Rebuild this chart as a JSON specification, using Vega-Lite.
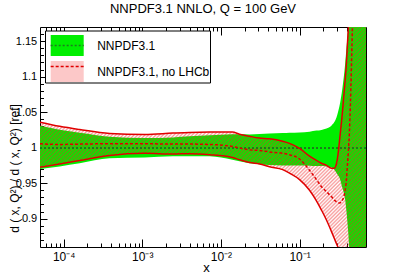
{
"$schema": "https://vega.github.io/schema/vega-lite/v6.json",
"width": 326, "height": 220,
"autosize": "none",
"padding": {"left": 40, "top": 27, "right": 41, "bottom": 29},
"background": "white",
"title": {"text": "NNPDF3.1 NNLO, Q = 100 GeV", "font": "Liberation Sans", "fontSize": 13, "fontWeight": "normal", "color": "black", "anchor": "middle", "frame": "group", "offset": 1, "baseline": "alphabetic"},
"data": {"values": [
{"x":5e-5,"gl":0.970,"gh":1.031,"rl":0.9725,"rh":1.0358,"rc":1.0055},
{"x":8.9e-5,"gl":0.9736,"gh":1.0253,"rl":0.977,"rh":1.030,"rc":1.0045},
{"x":1.6e-4,"gl":0.978,"gh":1.021,"rl":0.982,"rh":1.0255,"rc":1.005},
{"x":3.84e-4,"gl":0.985,"gh":1.0155,"rl":0.989,"rh":1.020,"rc":1.0055},
{"x":1.07e-3,"gl":0.986,"gh":1.0135,"rl":0.992,"rh":1.0185,"rc":1.0055},
{"x":2.44e-3,"gl":0.9877,"gh":1.0144,"rl":0.991,"rh":1.0205,"rc":1.005},
{"x":4.0e-3,"gl":0.988,"gh":1.016,"rl":0.9915,"rh":1.0215,"rc":1.005},
{"x":7.2e-3,"gl":0.9877,"gh":1.0173,"rl":0.990,"rh":1.022,"rc":1.0045},
{"x":0.014,"gl":0.983,"gh":1.019,"rl":0.986,"rh":1.022,"rc":1.0017},
{"x":0.0172,"gl":0.981,"gh":1.0187,"rl":0.983,"rh":1.019,"rc":0.9995},
{"x":0.0231,"gl":0.978,"gh":1.0185,"rl":0.979,"rh":1.016,"rc":0.997},
{"x":0.031,"gl":0.9765,"gh":1.0193,"rl":0.977,"rh":1.0135,"rc":0.996},
{"x":0.0415,"gl":0.9755,"gh":1.020,"rl":0.973,"rh":1.0125,"rc":0.994},
{"x":0.061,"gl":0.975,"gh":1.0206,"rl":0.969,"rh":1.009,"rc":0.992},
{"x":0.0745,"gl":0.975,"gh":1.021,"rl":0.964,"rh":1.006,"rc":0.990},
{"x":0.1,"gl":0.975,"gh":1.0215,"rl":0.955,"rh":0.999,"rc":0.984},
{"x":0.134,"gl":0.9745,"gh":1.0225,"rl":0.94,"rh":0.988,"rc":0.968},
{"x":0.164,"gl":0.974,"gh":1.024,"rl":0.925,"rh":0.982,"rc":0.955},
{"x":0.19,"gl":0.974,"gh":1.025,"rl":0.912,"rh":0.978,"rc":0.945},
{"x":0.22,"gl":0.9735,"gh":1.027,"rl":0.898,"rh":0.975,"rc":0.938},
{"x":0.254,"gl":0.972,"gh":1.031,"rl":0.882,"rh":0.971,"rc":0.931},
{"x":0.277,"gl":0.969,"gh":1.036,"rl":0.872,"rh":0.971,"rc":0.926},
{"x":0.294,"gl":0.9645,"gh":1.042,"rl":0.865,"rh":0.977,"rc":0.924},
{"x":0.308,"gl":0.961,"gh":1.05,"rl":0.86,"rh":0.99,"rc":0.923},
{"x":0.321,"gl":0.958,"gh":1.058,"rl":0.86,"rh":1.008,"rc":0.922},
{"x":0.351,"gl":0.943,"gh":1.084,"rl":0.86,"rh":1.05,"rc":0.926},
{"x":0.38,"gl":0.927,"gh":1.118,"rl":0.86,"rh":1.095,"rc":0.94},
{"x":0.395,"gl":0.91,"gh":1.14,"rl":0.86,"rh":1.12,"rc":0.955},
{"x":0.406,"gl":0.895,"gh":1.155,"rl":0.86,"rh":1.145,"rc":0.975},
{"x":0.418,"gl":0.878,"gh":1.17,"rl":0.86,"rh":1.17,"rc":0.995},
{"x":0.43,"gl":0.86,"gh":1.17,"rl":0.86,"rh":1.17,"rc":1.02},
{"x":0.443,"gl":0.86,"gh":1.17,"rl":0.86,"rh":1.17,"rc":1.06},
{"x":0.47,"gl":0.86,"gh":1.17,"rl":0.86,"rh":1.17,"rc":1.17},
{"x":0.7,"gl":0.86,"gh":1.17,"rl":0.86,"rh":1.17,"rc":1.17}
]},
"config": {
"view": {"stroke": "black", "strokeWidth": 1},
"axis": {"grid": false, "domain": false, "tickColor": "black", "tickWidth": 1, "labelFont": "Liberation Sans", "titleFont": "Liberation Sans", "labelColor": "black", "titleColor": "black", "titleFontWeight": "normal", "labelFlush": false, "labelOverlap": false, "zindex": 1}
},
"resolve": {"axis": {"x": "independent", "y": "independent"}},
"layer": [
{
"mark": {"type": "area", "interpolate": "monotone", "clip": true},
"encoding": {
"x": {"field": "x", "type": "quantitative", "scale": {"type": "log", "domain": [5e-5, 0.7], "nice": false},
 "axis": {"orient": "bottom", "values": [0.0001, 0.001, 0.01, 0.1], "labelExpr": "datum.value < 0.0005 ? '10⁻⁴' : datum.value < 0.005 ? '10⁻³' : datum.value < 0.05 ? '10⁻²' : '10⁻¹'", "tickSize": -8, "labelPadding": 12.5, "labelFontSize": 12, "title": "x", "titleFontSize": 13, "titleX": 166, "titleY": 24.5, "titleAlign": "center", "titleBaseline": "alphabetic"}},
"y": {"field": "gl", "type": "quantitative", "scale": {"domain": [0.86, 1.17], "nice": false, "zero": false},
 "axis": {"orient": "left", "values": [0.9, 0.95, 1, 1.05, 1.1, 1.15], "format": "~g", "tickSize": -7, "labelPadding": 10.3, "labelFontSize": 11, "title": "d ( x, Q²) / d ( x, Q²) [ref]", "titleFontSize": 12, "titleX": -22, "titleY": 141, "titleAngle": -90, "titleAlign": "center", "titleBaseline": "alphabetic"}},
"y2": {"field": "gh"},
"fill": {"datum": "NNPDF3.1",
 "scale": {"domain": ["NNPDF3.1", "NNPDF3.1, no LHCb"], "range": ["#00ee00", "#fcc8c8"]},
 "legend": {"orient": "none", "legendX": 5, "legendY": 3.5, "title": null, "padding": 0, "strokeColor": "black", "fillColor": "white", "symbolType": "M-1.1,-0.7L1.1,-0.7L1.1,0.7L-1.1,0.7Z", "symbolSize": 900, "symbolStrokeWidth": 0, "symbolStrokeColor": "transparent", "symbolOffset": 7.2, "labelOffset": 15, "labelFont": "Liberation Sans", "labelFontSize": 12, "labelColor": "black", "rowPadding": 0, "labelExpr": "datum.label + '\u00a0\u00a0\u00a0\u00a0\u00a0\u00a0\u00a0\u00a0\u00a0'", "zindex": 1}}
}
},
{
"mark": {"type": "area", "interpolate": "monotone", "clip": true,
 "fill": {"gradient": "linear", "x1": 0, "y1": 0, "x2": 1.1507, "y2": 0.7767, "stops": [
{"offset":0,"color":"#e220"},{"offset":0.0033,"color":"#e227"},{"offset":0.0067,"color":"#e220"},{"offset":0.01,"color":"#e227"},{"offset":0.0133,"color":"#e220"},{"offset":0.0167,"color":"#e227"},
{"offset":0.02,"color":"#e220"},{"offset":0.0233,"color":"#e227"},{"offset":0.0267,"color":"#e220"},{"offset":0.03,"color":"#e227"},{"offset":0.0333,"color":"#e220"},{"offset":0.0367,"color":"#e227"},
{"offset":0.04,"color":"#e220"},{"offset":0.0433,"color":"#e227"},{"offset":0.0467,"color":"#e220"},{"offset":0.05,"color":"#e227"},{"offset":0.0533,"color":"#e220"},{"offset":0.0567,"color":"#e227"},
{"offset":0.06,"color":"#e220"},{"offset":0.0633,"color":"#e227"},{"offset":0.0667,"color":"#e220"},{"offset":0.07,"color":"#e227"},{"offset":0.0733,"color":"#e220"},{"offset":0.0767,"color":"#e227"},
{"offset":0.08,"color":"#e220"},{"offset":0.0833,"color":"#e227"},{"offset":0.0867,"color":"#e220"},{"offset":0.09,"color":"#e227"},{"offset":0.0933,"color":"#e220"},{"offset":0.0967,"color":"#e227"},
{"offset":0.1,"color":"#e220"},{"offset":0.1033,"color":"#e227"},{"offset":0.1067,"color":"#e220"},{"offset":0.11,"color":"#e227"},{"offset":0.1133,"color":"#e220"},{"offset":0.1167,"color":"#e227"},
{"offset":0.12,"color":"#e220"},{"offset":0.1233,"color":"#e227"},{"offset":0.1267,"color":"#e220"},{"offset":0.13,"color":"#e227"},{"offset":0.1333,"color":"#e220"},{"offset":0.1367,"color":"#e227"},
{"offset":0.14,"color":"#e220"},{"offset":0.1433,"color":"#e227"},{"offset":0.1467,"color":"#e220"},{"offset":0.15,"color":"#e227"},{"offset":0.1533,"color":"#e220"},{"offset":0.1567,"color":"#e227"},
{"offset":0.16,"color":"#e220"},{"offset":0.1633,"color":"#e227"},{"offset":0.1667,"color":"#e220"},{"offset":0.17,"color":"#e227"},{"offset":0.1733,"color":"#e220"},{"offset":0.1767,"color":"#e227"},
{"offset":0.18,"color":"#e220"},{"offset":0.1833,"color":"#e227"},{"offset":0.1867,"color":"#e220"},{"offset":0.19,"color":"#e227"},{"offset":0.1933,"color":"#e220"},{"offset":0.1967,"color":"#e227"},
{"offset":0.2,"color":"#e220"},{"offset":0.2033,"color":"#e227"},{"offset":0.2067,"color":"#e220"},{"offset":0.21,"color":"#e227"},{"offset":0.2133,"color":"#e220"},{"offset":0.2167,"color":"#e227"},
{"offset":0.22,"color":"#e220"},{"offset":0.2233,"color":"#e227"},{"offset":0.2267,"color":"#e220"},{"offset":0.23,"color":"#e227"},{"offset":0.2333,"color":"#e220"},{"offset":0.2367,"color":"#e227"},
{"offset":0.24,"color":"#e220"},{"offset":0.2433,"color":"#e227"},{"offset":0.2467,"color":"#e220"},{"offset":0.25,"color":"#e227"},{"offset":0.2533,"color":"#e220"},{"offset":0.2567,"color":"#e227"},
{"offset":0.26,"color":"#e220"},{"offset":0.2633,"color":"#e227"},{"offset":0.2667,"color":"#e220"},{"offset":0.27,"color":"#e227"},{"offset":0.2733,"color":"#e220"},{"offset":0.2767,"color":"#e227"},
{"offset":0.28,"color":"#e220"},{"offset":0.2833,"color":"#e227"},{"offset":0.2867,"color":"#e220"},{"offset":0.29,"color":"#e227"},{"offset":0.2933,"color":"#e220"},{"offset":0.2967,"color":"#e227"},
{"offset":0.3,"color":"#e220"},{"offset":0.3033,"color":"#e227"},{"offset":0.3067,"color":"#e220"},{"offset":0.31,"color":"#e227"},{"offset":0.3133,"color":"#e220"},{"offset":0.3167,"color":"#e227"},
{"offset":0.32,"color":"#e220"},{"offset":0.3233,"color":"#e227"},{"offset":0.3267,"color":"#e220"},{"offset":0.33,"color":"#e227"},{"offset":0.3333,"color":"#e220"},{"offset":0.3367,"color":"#e227"},
{"offset":0.34,"color":"#e220"},{"offset":0.3433,"color":"#e227"},{"offset":0.3467,"color":"#e220"},{"offset":0.35,"color":"#e227"},{"offset":0.3533,"color":"#e220"},{"offset":0.3567,"color":"#e227"},
{"offset":0.36,"color":"#e220"},{"offset":0.3633,"color":"#e227"},{"offset":0.3667,"color":"#e220"},{"offset":0.37,"color":"#e227"},{"offset":0.3733,"color":"#e220"},{"offset":0.3767,"color":"#e227"},
{"offset":0.38,"color":"#e220"},{"offset":0.3833,"color":"#e227"},{"offset":0.3867,"color":"#e220"},{"offset":0.39,"color":"#e227"},{"offset":0.3933,"color":"#e220"},{"offset":0.3967,"color":"#e227"},
{"offset":0.4,"color":"#e220"},{"offset":0.4033,"color":"#e227"},{"offset":0.4067,"color":"#e220"},{"offset":0.41,"color":"#e227"},{"offset":0.4133,"color":"#e220"},{"offset":0.4167,"color":"#e227"},
{"offset":0.42,"color":"#e220"},{"offset":0.4233,"color":"#e227"},{"offset":0.4267,"color":"#e220"},{"offset":0.43,"color":"#e227"},{"offset":0.4333,"color":"#e220"},{"offset":0.4367,"color":"#e227"},
{"offset":0.44,"color":"#e220"},{"offset":0.4433,"color":"#e227"},{"offset":0.4467,"color":"#e220"},{"offset":0.45,"color":"#e227"},{"offset":0.4533,"color":"#e220"},{"offset":0.4567,"color":"#e227"},
{"offset":0.46,"color":"#e220"},{"offset":0.4633,"color":"#e227"},{"offset":0.4667,"color":"#e220"},{"offset":0.47,"color":"#e227"},{"offset":0.4733,"color":"#e220"},{"offset":0.4767,"color":"#e227"},
{"offset":0.48,"color":"#e220"},{"offset":0.4833,"color":"#e227"},{"offset":0.4867,"color":"#e220"},{"offset":0.49,"color":"#e227"},{"offset":0.4933,"color":"#e220"},{"offset":0.4967,"color":"#e227"},
{"offset":0.5,"color":"#e220"},{"offset":0.5033,"color":"#e227"},{"offset":0.5067,"color":"#e220"},{"offset":0.51,"color":"#e227"},{"offset":0.5133,"color":"#e220"},{"offset":0.5167,"color":"#e227"},
{"offset":0.52,"color":"#e220"},{"offset":0.5233,"color":"#e227"},{"offset":0.5267,"color":"#e220"},{"offset":0.53,"color":"#e227"},{"offset":0.5333,"color":"#e220"},{"offset":0.5367,"color":"#e227"},
{"offset":0.54,"color":"#e220"},{"offset":0.5433,"color":"#e227"},{"offset":0.5467,"color":"#e220"},{"offset":0.55,"color":"#e227"},{"offset":0.5533,"color":"#e220"},{"offset":0.5567,"color":"#e227"},
{"offset":0.56,"color":"#e220"},{"offset":0.5633,"color":"#e227"},{"offset":0.5667,"color":"#e220"},{"offset":0.57,"color":"#e227"},{"offset":0.5733,"color":"#e220"},{"offset":0.5767,"color":"#e227"},
{"offset":0.58,"color":"#e220"},{"offset":0.5833,"color":"#e227"},{"offset":0.5867,"color":"#e220"},{"offset":0.59,"color":"#e227"},{"offset":0.5933,"color":"#e220"},{"offset":0.5967,"color":"#e227"},
{"offset":0.6,"color":"#e220"},{"offset":0.6033,"color":"#e227"},{"offset":0.6067,"color":"#e220"},{"offset":0.61,"color":"#e227"},{"offset":0.6133,"color":"#e220"},{"offset":0.6167,"color":"#e227"},
{"offset":0.62,"color":"#e220"},{"offset":0.6233,"color":"#e227"},{"offset":0.6267,"color":"#e220"},{"offset":0.63,"color":"#e227"},{"offset":0.6333,"color":"#e220"},{"offset":0.6367,"color":"#e227"},
{"offset":0.64,"color":"#e220"},{"offset":0.6433,"color":"#e227"},{"offset":0.6467,"color":"#e220"},{"offset":0.65,"color":"#e227"},{"offset":0.6533,"color":"#e220"},{"offset":0.6567,"color":"#e227"},
{"offset":0.66,"color":"#e220"},{"offset":0.6633,"color":"#e227"},{"offset":0.6667,"color":"#e220"},{"offset":0.67,"color":"#e227"},{"offset":0.6733,"color":"#e220"},{"offset":0.6767,"color":"#e227"},
{"offset":0.68,"color":"#e220"},{"offset":0.6833,"color":"#e227"},{"offset":0.6867,"color":"#e220"},{"offset":0.69,"color":"#e227"},{"offset":0.6933,"color":"#e220"},{"offset":0.6967,"color":"#e227"},
{"offset":0.7,"color":"#e220"},{"offset":0.7033,"color":"#e227"},{"offset":0.7067,"color":"#e220"},{"offset":0.71,"color":"#e227"},{"offset":0.7133,"color":"#e220"},{"offset":0.7167,"color":"#e227"},
{"offset":0.72,"color":"#e220"},{"offset":0.7233,"color":"#e227"},{"offset":0.7267,"color":"#e220"},{"offset":0.73,"color":"#e227"},{"offset":0.7333,"color":"#e220"},{"offset":0.7367,"color":"#e227"},
{"offset":0.74,"color":"#e220"},{"offset":0.7433,"color":"#e227"},{"offset":0.7467,"color":"#e220"},{"offset":0.75,"color":"#e227"},{"offset":0.7533,"color":"#e220"},{"offset":0.7567,"color":"#e227"},
{"offset":0.76,"color":"#e220"},{"offset":0.7633,"color":"#e227"},{"offset":0.7667,"color":"#e220"},{"offset":0.77,"color":"#e227"},{"offset":0.7733,"color":"#e220"},{"offset":0.7767,"color":"#e227"},
{"offset":0.78,"color":"#e220"},{"offset":0.7833,"color":"#e227"},{"offset":0.7867,"color":"#e220"},{"offset":0.79,"color":"#e227"},{"offset":0.7933,"color":"#e220"},{"offset":0.7967,"color":"#e227"},
{"offset":0.8,"color":"#e220"},{"offset":0.8033,"color":"#e227"},{"offset":0.8067,"color":"#e220"},{"offset":0.81,"color":"#e227"},{"offset":0.8133,"color":"#e220"},{"offset":0.8167,"color":"#e227"},
{"offset":0.82,"color":"#e220"},{"offset":0.8233,"color":"#e227"},{"offset":0.8267,"color":"#e220"},{"offset":0.83,"color":"#e227"},{"offset":0.8333,"color":"#e220"},{"offset":0.8367,"color":"#e227"},
{"offset":0.84,"color":"#e220"},{"offset":0.8433,"color":"#e227"},{"offset":0.8467,"color":"#e220"},{"offset":0.85,"color":"#e227"},{"offset":0.8533,"color":"#e220"},{"offset":0.8567,"color":"#e227"},
{"offset":0.86,"color":"#e220"},{"offset":0.8633,"color":"#e227"},{"offset":0.8667,"color":"#e220"},{"offset":0.87,"color":"#e227"},{"offset":0.8733,"color":"#e220"},{"offset":0.8767,"color":"#e227"},
{"offset":0.88,"color":"#e220"},{"offset":0.8833,"color":"#e227"},{"offset":0.8867,"color":"#e220"},{"offset":0.89,"color":"#e227"},{"offset":0.8933,"color":"#e220"},{"offset":0.8967,"color":"#e227"},
{"offset":0.9,"color":"#e220"},{"offset":0.9033,"color":"#e227"},{"offset":0.9067,"color":"#e220"},{"offset":0.91,"color":"#e227"},{"offset":0.9133,"color":"#e220"},{"offset":0.9167,"color":"#e227"},
{"offset":0.92,"color":"#e220"},{"offset":0.9233,"color":"#e227"},{"offset":0.9267,"color":"#e220"},{"offset":0.93,"color":"#e227"},{"offset":0.9333,"color":"#e220"},{"offset":0.9367,"color":"#e227"},
{"offset":0.94,"color":"#e220"},{"offset":0.9433,"color":"#e227"},{"offset":0.9467,"color":"#e220"},{"offset":0.95,"color":"#e227"},{"offset":0.9533,"color":"#e220"},{"offset":0.9567,"color":"#e227"},
{"offset":0.96,"color":"#e220"},{"offset":0.9633,"color":"#e227"},{"offset":0.9667,"color":"#e220"},{"offset":0.97,"color":"#e227"},{"offset":0.9733,"color":"#e220"},{"offset":0.9767,"color":"#e227"},
{"offset":0.98,"color":"#e220"},{"offset":0.9833,"color":"#e227"},{"offset":0.9867,"color":"#e220"},{"offset":0.99,"color":"#e227"},{"offset":0.9933,"color":"#e220"},{"offset":0.9967,"color":"#e227"},
{"offset":1,"color":"#e220"}]}},
"encoding": {
"x": {"field": "x", "type": "quantitative", "scale": {"type": "log", "domain": [5e-5, 0.7], "nice": false},
 "axis": {"orient": "bottom", "values": [6e-5,7e-5,8e-5,9e-5,2e-4,3e-4,4e-4,5e-4,6e-4,7e-4,8e-4,9e-4,0.002,0.003,0.004,0.005,0.006,0.007,0.008,0.009,0.02,0.03,0.04,0.05,0.06,0.07,0.08,0.09,0.2,0.3,0.4,0.5,0.6], "labels": false, "tickSize": -4, "title": null}},
"y": {"field": "rl", "type": "quantitative", "scale": {"domain": [0.86, 1.17], "nice": false, "zero": false},
 "axis": {"orient": "left", "values": [0.87,0.88,0.89,0.91,0.92,0.93,0.94,0.96,0.97,0.98,0.99,1.01,1.02,1.03,1.04,1.06,1.07,1.08,1.09,1.11,1.12,1.13,1.14,1.16], "labels": false, "tickSize": -3.5, "title": null}},
"y2": {"field": "rh"}
}
},
{
"mark": {"type": "rule", "clip": true, "strokeWidth": 1.2},
"encoding": {
"y": {"datum": 1, "type": "quantitative", "scale": {"domain": [0.86, 1.17], "nice": false, "zero": false}, "axis": null},
"stroke": {"datum": "NNPDF3.1 c", "scale": {"domain": ["NNPDF3.1 c", "NNPDF3.1, no LHCb c"], "range": ["#1e7b1e", "#e00000"]},
 "legend": {"orient": "none", "legendX": 5, "legendY": 3.5, "title": null, "padding": 0, "symbolType": "M-1.16,0L1.16,0", "symbolSize": 812.25, "symbolStrokeWidth": 1.5, "symbolFillColor": "transparent", "symbolOffset": 7.2, "labelExpr": "''", "labelFontSize": 12, "rowPadding": 0, "zindex": 2}},
"strokeDash": {"datum": "NNPDF3.1 c", "scale": {"domain": ["NNPDF3.1 c", "NNPDF3.1, no LHCb c"], "range": [[2, 2], [3, 2]]},
 "legend": {"orient": "none", "legendX": 5, "legendY": 3.5, "title": null, "padding": 0, "symbolType": "M-1.16,0L1.16,0", "symbolSize": 812.25, "symbolStrokeWidth": 1.5, "symbolFillColor": "transparent", "symbolOffset": 7.2, "labelExpr": "''", "labelFontSize": 12, "rowPadding": 0, "zindex": 2}}
}
},
{
"transform": [{"filter": "datum.x <= 0.418"}],
"mark": {"type": "line", "interpolate": "monotone", "clip": true, "color": "#e00000", "strokeWidth": 1.5},
"encoding": {
"x": {"field": "x", "type": "quantitative", "scale": {"type": "log", "domain": [5e-5, 0.7], "nice": false},
 "axis": {"orient": "top", "values": [0.0001, 0.001, 0.01, 0.1], "labels": false, "tickSize": -8, "title": null}},
"y": {"field": "rh", "type": "quantitative", "scale": {"domain": [0.86, 1.17], "nice": false, "zero": false},
 "axis": {"orient": "right", "values": [0.9, 0.95, 1, 1.05, 1.1, 1.15], "labels": false, "tickSize": -7, "title": null}}
}
},
{
"transform": [{"filter": "datum.x <= 0.308"}],
"mark": {"type": "line", "interpolate": "monotone", "clip": true, "color": "#e00000", "strokeWidth": 1.5},
"encoding": {
"x": {"field": "x", "type": "quantitative", "scale": {"type": "log", "domain": [5e-5, 0.7], "nice": false},
 "axis": {"orient": "top", "values": [6e-5,7e-5,8e-5,9e-5,2e-4,3e-4,4e-4,5e-4,6e-4,7e-4,8e-4,9e-4,0.002,0.003,0.004,0.005,0.006,0.007,0.008,0.009,0.02,0.03,0.04,0.05,0.06,0.07,0.08,0.09,0.2,0.3,0.4,0.5,0.6], "labels": false, "tickSize": -4, "title": null}},
"y": {"field": "rl", "type": "quantitative", "scale": {"domain": [0.86, 1.17], "nice": false, "zero": false},
 "axis": {"orient": "right", "values": [0.87,0.88,0.89,0.91,0.92,0.93,0.94,0.96,0.97,0.98,0.99,1.01,1.02,1.03,1.04,1.06,1.07,1.08,1.09,1.11,1.12,1.13,1.14,1.16], "labels": false, "tickSize": -3.5, "title": null}}
}
},
{
"transform": [{"filter": "datum.x <= 0.47"}],
"mark": {"type": "line", "interpolate": "monotone", "clip": true, "strokeWidth": 1.5},
"encoding": {
"x": {"field": "x", "type": "quantitative", "scale": {"type": "log", "domain": [5e-5, 0.7], "nice": false}, "axis": null},
"y": {"field": "rc", "type": "quantitative", "scale": {"domain": [0.86, 1.17], "nice": false, "zero": false}, "axis": null},
"stroke": {"datum": "NNPDF3.1, no LHCb c", "scale": {"domain": ["NNPDF3.1 c", "NNPDF3.1, no LHCb c"], "range": ["#1e7b1e", "#e00000"]},
 "legend": {"orient": "none", "legendX": 5, "legendY": 3.5, "title": null, "padding": 0, "symbolType": "M-1.16,0L1.16,0", "symbolSize": 812.25, "symbolStrokeWidth": 1.5, "symbolFillColor": "transparent", "symbolOffset": 7.2, "labelExpr": "''", "labelFontSize": 12, "rowPadding": 0, "zindex": 2}},
"strokeDash": {"datum": "NNPDF3.1, no LHCb c", "scale": {"domain": ["NNPDF3.1 c", "NNPDF3.1, no LHCb c"], "range": [[2, 2], [3, 2]]},
 "legend": {"orient": "none", "legendX": 5, "legendY": 3.5, "title": null, "padding": 0, "symbolType": "M-1.16,0L1.16,0", "symbolSize": 812.25, "symbolStrokeWidth": 1.5, "symbolFillColor": "transparent", "symbolOffset": 7.2, "labelExpr": "''", "labelFontSize": 12, "rowPadding": 0, "zindex": 2}}
}
}
]
}
